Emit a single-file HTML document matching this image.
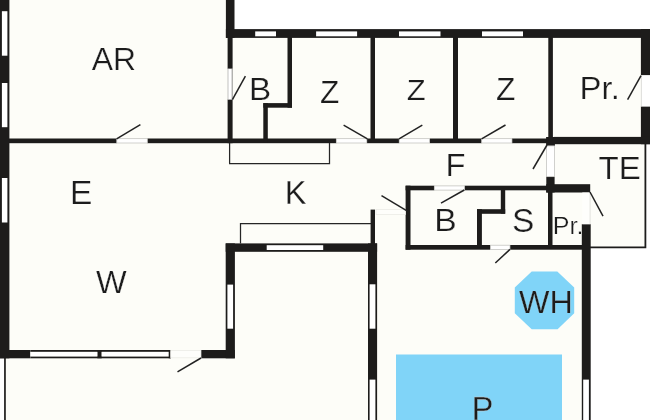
<!DOCTYPE html>
<html><head><meta charset="utf-8">
<title>Floor plan</title>
<style>
html,body{margin:0;padding:0;background:#fff;}
body{width:650px;height:420px;overflow:hidden;}
svg{display:block;}
text{font-family:"Liberation Sans",sans-serif;fill:#1d1c1b;}
.lab{filter:grayscale(1);}
</style></head><body>
<svg width="650" height="420" viewBox="0 0 650 420">
<rect width="650" height="420" fill="#ffffff"/>
<!-- interior cream -->
<polygon points="0,0 230,0 230,33 645.4,33 645.4,247.3 586,247.3 586,420 5,420 5,358 0,358" fill="#fdfdf8"/>

<!-- pool + whirlpool -->
<rect x="396" y="354.5" width="166" height="70" fill="#80d4f8"/>
<polygon points="531.7,271.5 557.3,271.5 574.2,287.6 574.2,313.2 557.6,329.3 531.7,329.3 514.8,313.2 514.8,287.6" fill="#80d4f8"/>

<g fill="#1d1c1b">
<!-- left wall -->
<rect x="0" y="0" width="9.4" height="358.3"/>
<!-- top thick vertical -->
<rect x="225.9" y="0" width="8.6" height="37.9"/>
<!-- top wall -->
<rect x="225.9" y="29.1" width="424.1" height="8.8"/>
<!-- right wall -->
<rect x="640.9" y="29.1" width="9.1" height="46.2"/>
<rect x="640.9" y="106.4" width="9.1" height="37.8"/>
<!-- AR/B wall -->
<rect x="227.6" y="37" width="5" height="31.8"/>
<rect x="227.6" y="99.4" width="5" height="43.8"/>
<!-- main horizontal wall -->
<rect x="9" y="138.5" width="107.8" height="4.7"/>
<rect x="147.3" y="138.5" width="189" height="4.7"/>
<rect x="366.8" y="138.5" width="32.4" height="4.7"/>
<rect x="429.6" y="138.5" width="52.1" height="4.7"/>
<rect x="512" y="138.5" width="36" height="4.7"/>
<rect x="546.1" y="137" width="8.8" height="8.9"/>
<rect x="554" y="136.9" width="96" height="7.3"/>
<!-- vertical room walls -->
<rect x="287.5" y="37" width="4.5" height="70.7"/>
<rect x="263.3" y="103.1" width="28.7" height="4.6"/>
<rect x="263.3" y="103.1" width="4.5" height="39"/>
<rect x="370.5" y="37" width="4.5" height="104"/>
<rect x="453" y="37" width="5" height="104"/>
<rect x="548.3" y="37" width="4.6" height="104"/>
<!-- B/S/Pr block -->
<rect x="405.6" y="185.7" width="28.7" height="4.6"/>
<rect x="464.5" y="185.7" width="84" height="4.6"/>
<rect x="405.6" y="185.7" width="4.9" height="64"/>
<rect x="405.6" y="245" width="84.8" height="4.7"/>
<rect x="510" y="245" width="73" height="4.7"/>
<rect x="500.8" y="190" width="4.4" height="23.7"/>
<rect x="477" y="209.2" width="28.2" height="4.6"/>
<rect x="477" y="209.2" width="4.9" height="38"/>
<rect x="548" y="190" width="4.5" height="57"/>
<rect x="546.3" y="176.7" width="8.3" height="15.8"/>
<rect x="546.2" y="184.2" width="44" height="8.3"/>
<rect x="581.8" y="224.2" width="8.9" height="196"/>
<!-- W room walls -->
<rect x="0" y="350" width="30.4" height="8.3"/>
<rect x="97.3" y="350" width="4.4" height="8.3"/>
<rect x="201" y="350" width="33.8" height="8.3"/>
<rect x="225.7" y="243.4" width="9.2" height="114.9"/>
<rect x="225.7" y="243.4" width="151.4" height="8.4"/>
<rect x="368" y="243.4" width="9.1" height="177"/>
<rect x="370.6" y="209.6" width="4.4" height="36"/>
</g>

<!-- windows -->
<g fill="#ffffff">
<rect x="1.9" y="11.2" width="5.5" height="44.5"/>
<rect x="1.9" y="83" width="5.5" height="44.2"/>
<rect x="1.9" y="178" width="5.5" height="44.5"/>
<rect x="255.2" y="31.4" width="20.8" height="4.9"/>
<rect x="316.1" y="31.4" width="41" height="4.9"/>
<rect x="399" y="31.4" width="41.5" height="4.9"/>
<rect x="482" y="31.4" width="41" height="4.9"/>
<rect x="30.4" y="351.8" width="66.9" height="4.8"/>
<rect x="101.7" y="351.8" width="67" height="4.8"/>
<rect x="227.4" y="284.6" width="5.7" height="44.1"/>
<rect x="266.7" y="245.2" width="56.5" height="4.8"/>
<rect x="369.6" y="284.3" width="5.8" height="44.4"/>
<rect x="369.6" y="379.6" width="5.8" height="41"/>
<rect x="583.2" y="379.6" width="5.7" height="41"/>
</g>
<g fill="#1d1c1b">
<rect x="30.4" y="350" width="140.3" height="1.8"/>
<rect x="30.4" y="356.6" width="140.3" height="1.7"/>
<rect x="168.7" y="350" width="2" height="8.3"/>
</g>

<!-- thin lines -->
<g fill="none" stroke="#262626" stroke-width="1.25">
<polyline points="229.6,143 229.6,163.5 329.5,163.5 329.5,143"/>
<polyline points="240.5,243.5 240.5,223.6 371,223.6"/>
</g>
<polyline points="645.4,144 645.4,247.3 590,247.3" fill="none" stroke="#1d1c1b" stroke-width="1.8"/>
<rect x="4.1" y="358" width="1.7" height="62" fill="#1d1c1b"/>

<!-- door openings: bright -->
<g fill="#ffffff" stroke="#bdbdb9" stroke-width="0.7">
<rect x="116.8" y="138.7" width="30.5" height="4.3"/>
<rect x="336.3" y="138.7" width="30.5" height="4.3"/>
<rect x="399.2" y="138.7" width="30.4" height="4.3"/>
<rect x="481.7" y="138.7" width="30.3" height="4.3"/>
<rect x="434.3" y="185.9" width="30.2" height="4.2"/>
<rect x="490.4" y="245.2" width="19.6" height="4.3"/>
<rect x="546.5" y="145.9" width="8" height="30.8"/>
</g>
<rect x="228" y="68.8" width="4.4" height="30.6" fill="#ffffff"/>
<line x1="232.2" y1="68.8" x2="232.2" y2="99.4" stroke="#747472" stroke-width="0.8"/>
<line x1="228" y1="68.8" x2="228" y2="99.4" stroke="#a8a8a6" stroke-width="0.7"/>
<rect x="641.3" y="75.3" width="8.7" height="31.1" fill="#ffffff"/>
<line x1="641.4" y1="75.3" x2="641.4" y2="106.4" stroke="#d4d4d0" stroke-width="0.8"/>
<!-- door openings: faint -->
<g fill="#fefefb" stroke="#e9e9e4" stroke-width="0.7">
<rect x="170.7" y="350.6" width="30.3" height="7.2"/>
<rect x="376" y="209.6" width="29.6" height="5"/>
</g>
<rect x="582.3" y="192.5" width="7.6" height="31.7" fill="#fefefc"/>
<line x1="590.1" y1="193" x2="590.1" y2="224.2" stroke="#dcdcd8" stroke-width="0.8"/>

<!-- door swings -->
<g fill="none" stroke="#222222" stroke-width="1.5">
<line x1="116.6" y1="138.8" x2="140.4" y2="124.6"/>
<line x1="232.4" y1="99.6" x2="245.4" y2="76.2"/>
<line x1="367.4" y1="138.8" x2="343.6" y2="125.2"/>
<line x1="399" y1="138.8" x2="422.3" y2="125.2"/>
<line x1="481.6" y1="138.8" x2="505.5" y2="125"/>
<line x1="547" y1="145" x2="533" y2="169"/>
<line x1="641" y1="75.6" x2="627.6" y2="99.6"/>
<line x1="464.3" y1="190" x2="441" y2="203.2"/>
<line x1="381.5" y1="195.7" x2="407" y2="210.8"/>
<line x1="510" y1="249.4" x2="495.3" y2="263"/>
<line x1="590" y1="192" x2="603" y2="216.2"/>
<line x1="201" y1="358" x2="177.5" y2="371.9"/>
</g>

<!-- labels -->
<g class="lab">
<text transform="translate(91.74 69.70) scale(1.0630 1.0286)" font-size="30" stroke="#fdfdf8" stroke-width="0.239">AR</text>
<text transform="translate(249.07 99.65) scale(1.1086 1.0504)" font-size="30" stroke="#fdfdf8" stroke-width="0.232">B</text>
<text transform="translate(319.94 102.80) scale(1.0556 1.0431)" font-size="30" stroke="#fdfdf8" stroke-width="0.238">Z</text>
<text transform="translate(406.87 99.50) scale(1.0331 1.0141)" font-size="30" stroke="#fdfdf8" stroke-width="0.244">Z</text>
<text transform="translate(495.99 99.60) scale(1.0587 1.0286)" font-size="30" stroke="#fdfdf8" stroke-width="0.240">Z</text>
<text transform="translate(579.60 99.10) scale(1.0967 1.0465)" font-size="30" stroke="#fdfdf8" stroke-width="0.233">Pr.</text>
<text transform="translate(70.05 203.70) scale(1.1163 1.0950)" font-size="30" stroke="#fdfdf8" stroke-width="0.226">E</text>
<text transform="translate(284.63 203.70) scale(1.0865 1.0950)" font-size="30" stroke="#fdfdf8" stroke-width="0.229">K</text>
<text transform="translate(445.51 176.25) scale(1.0912 1.0601)" font-size="30" stroke="#fdfdf8" stroke-width="0.232">F</text>
<text transform="translate(598.56 179.15) scale(1.1025 1.0601)" font-size="30" stroke="#fdfdf8" stroke-width="0.231">TE</text>
<text transform="translate(434.28 231.40) scale(1.1242 1.0625)" font-size="30" stroke="#fdfdf8" stroke-width="0.229">B</text>
<text transform="translate(511.88 231.58) scale(1.1146 1.0894)" font-size="30" stroke="#fdfdf8" stroke-width="0.227">S</text>
<text transform="translate(552.74 234.00) scale(0.8360 0.8188)" font-size="30" stroke="#fdfdf8" stroke-width="0.302">Pr.</text>
<text transform="translate(96.06 293.50) scale(1.0826 1.0611)" font-size="30" stroke="#fdfdf8" stroke-width="0.233">W</text>
<text transform="translate(519.06 313.20) scale(1.0738 1.0722)" font-size="30" stroke="#80d4f8" stroke-width="0.233">WH</text>
<text transform="translate(471.65 420.50) scale(1.0772 1.0867)" font-size="30" stroke="#80d4f8" stroke-width="0.231">P</text>
</g>
</svg>
</body></html>
